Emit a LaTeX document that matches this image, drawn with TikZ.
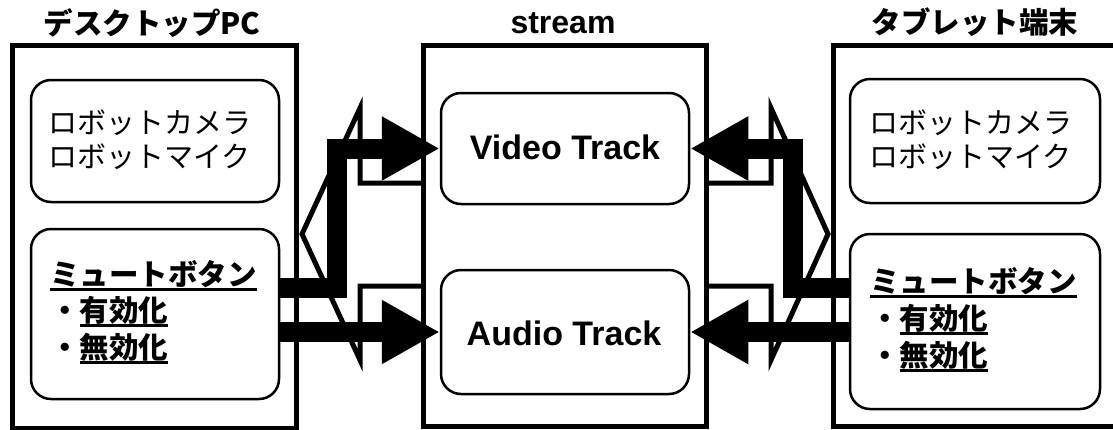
\documentclass[tikz,border=0pt]{standalone}
\usepackage{fontspec}
\setmainfont{Liberation Sans}
\newfontfamily\jp{Noto Sans CJK JP}
\usetikzlibrary{arrows.meta}
\newsavebox\ulbox
\newcommand\jpul[1]{\sbox\ulbox{#1}\rlap{\vrule height -3.3pt depth 5.8pt width \wd\ulbox}\usebox\ulbox}
\tikzset{
  bigbox/.style={draw, line width=5pt, inner sep=0pt},
  ibox/.style={draw, line width=2.5pt, rounded corners=20pt, inner sep=0pt},
  bigarrow/.style={line width=20pt, line join=miter, -{Triangle[length=58pt,width=60pt]}},
  outlinearrow/.style={line width=5pt, line join=miter},
  jptext/.style={inner sep=0pt, font=\jp\fontsize{29}{34}\selectfont},
  jpbold/.style={inner sep=0pt, font=\jp\bfseries\fontsize{29.5}{34}\selectfont},
  entext/.style={inner sep=0pt, font=\bfseries\fontsize{34}{40}\selectfont},
}
\begin{document}
\begin{tikzpicture}[x=1pt,y=1pt]
\useasboundingbox (0,0) rectangle (1113,-429);
\clip (0,0) rectangle (1113,-429);
% big boxes
\node[bigbox, minimum width=284pt, minimum height=383.5pt] (desk) at (154,-236.75) {};
\node[bigbox, minimum width=283pt, minimum height=381pt] (stream) at (564.5,-235.5) {};
\node[bigbox, minimum width=292pt, minimum height=381pt] (tablet) at (979,-235.5) {};
% inner boxes
\node[ibox, minimum width=248pt, minimum height=122pt] (lrobot) at (155,-141) {};
\node[ibox, minimum width=248pt, minimum height=170pt] (lmute) at (155,-314) {};
\node[ibox, minimum width=248pt, minimum height=111pt] (video) at (565,-148.5) {};
\node[ibox, minimum width=248pt, minimum height=124pt] (audio) at (565,-332) {};
\node[ibox, minimum width=250pt, minimum height=124pt] (rrobot) at (975,-141) {};
\node[ibox, minimum width=250pt, minimum height=175pt] (rmute) at (975,-321.5) {};
% outline arrows
\draw[outlinearrow] (423,-183) -- (360,-183) -- (360,-108) -- (302,-234) -- (360,-360) -- (360,-286) -- (423,-286);
\draw[outlinearrow] (706,-183) -- (771,-183) -- (771,-108) -- (828,-234) -- (771,-360) -- (771,-286) -- (706,-286);
% thick arrows
\draw[bigarrow] ([yshift=26pt]lmute.east) -| ([xshift=-103pt]video.west) -- (video.west);
\draw[bigarrow] (lmute.east |- audio.west) -- (audio.west);
\draw[bigarrow] ([yshift=33.5pt]rmute.west) -| ([xshift=103pt]video.east) -- (video.east);
\draw[bigarrow] (rmute.west |- audio.east) -- (audio.east);
% titles
\node[jpbold, anchor=base] (deskT) at (152,-34) {デスクトップPC};
\node[inner sep=0pt, font=\bfseries\fontsize{32}{38}\selectfont, anchor=base] (streamT) at (563,-33) {stream};
\node[jpbold, anchor=base] (tabT) at (975,-33) {タブレット端末};
% robot texts
\node[jptext, anchor=base west] (lr1) at (48,-133) {ロボットカメラ};
\node[jptext, anchor=base west] (lr2) at (48,-167) {ロボットマイク};
\node[jptext, anchor=base west] (rr1) at (869,-133) {ロボットカメラ};
\node[jptext, anchor=base west] (rr2) at (869,-167) {ロボットマイク};
% mute texts
\node[jpbold, anchor=base west] (lm1) at (50,-285) {\jpul{ミュートボタン}};
\node[jpbold, anchor=base west] (lm2) at (50,-321) {・\jpul{有効化}};
\node[jpbold, anchor=base west] (lm3) at (50,-358) {・\jpul{無効化}};
\node[jpbold, anchor=base west] (rm1) at (870,-292) {\jpul{ミュートボタン}};
\node[jpbold, anchor=base west] (rm2) at (870,-329) {・\jpul{有効化}};
\node[jpbold, anchor=base west] (rm3) at (870,-366) {・\jpul{無効化}};
% track texts
\node[entext, anchor=base] (videoT) at (565,-159) {Video Track};
\node[entext, anchor=base] (audioT) at (564,-345) {Audio Track};
\end{tikzpicture}
\end{document}
